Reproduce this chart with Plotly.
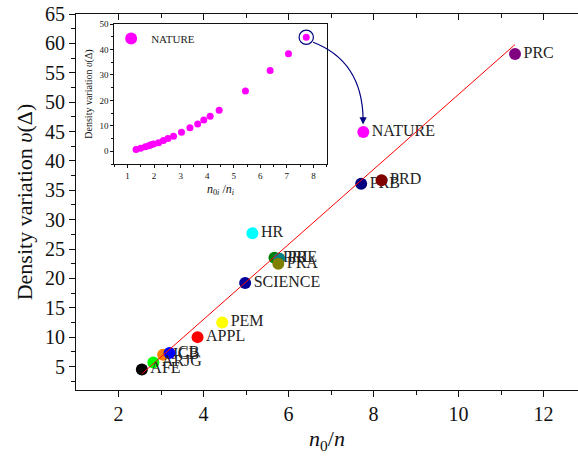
import plotly.graph_objects as go

# ---- main data ----
labels = ["PRC", "NATURE", "PRB", "PRD", "HR", "PRL", "PRE", "PRA", "SCIENCE",
          "PEM", "APPL", "JCB", "CB", "ARJG", "AFE"]
x_main = [11.33, 7.76, 7.71, 8.19, 5.15, 5.67, 5.78, 5.76, 4.98,
          4.44, 3.86, 3.05, 3.20, 2.82, 2.55]
y_main = [58.2, 44.9, 36.1, 36.7, 27.7, 23.5, 23.4, 22.5, 19.2,
          12.5, 10.0, 7.0, 7.3, 5.7, 4.5]
colors = ["#800080", "#ff00ff", "#000080", "#800000", "#00ffff", "#008000",
          "#008080", "#808000", "#000099", "#ffff00", "#ff0000", "#ff8000",
          "#0000ff", "#00ff00", "#000000"]

fit_x = [2.55, 11.33]
fit_y = [3.75, 59.8]

# ---- inset data (NATURE) ----
x_in = [1.32, 1.49, 1.67, 1.80, 1.88, 1.98, 2.17, 2.35, 2.52, 2.73, 3.03, 3.35,
        3.64, 3.87, 4.11, 4.45, 5.44, 6.37, 7.06, 7.73]
y_in = [0.7, 1.2, 1.8, 2.2, 2.6, 2.9, 3.4, 4.2, 5.0, 5.9, 7.5, 9.2,
        10.7, 12.3, 13.8, 16.1, 23.7, 31.7, 38.3, 44.8]

serif = "Liberation Serif"

fig = go.Figure()

for i in range(len(labels)):
    fig.add_trace(go.Scatter(
        x=[x_main[i]], y=[y_main[i]], mode="markers+text",
        marker=dict(size=12, color=colors[i]),
        text=[labels[i]], textposition="middle right",
        textfont=dict(family=serif, size=16, color="#222"),
        showlegend=False, xaxis="x", yaxis="y", cliponaxis=False))

fig.add_trace(go.Scatter(x=fit_x, y=fit_y, mode="lines",
                         line=dict(color="#ff0000", width=1),
                         showlegend=False, xaxis="x", yaxis="y"))

# inset trace
fig.add_trace(go.Scatter(x=x_in, y=y_in, mode="markers",
                         marker=dict(size=7, color="#ff00ff"),
                         name="NATURE", showlegend=False,
                         xaxis="x3", yaxis="y3"))
# legend entry for inset (bigger symbol)
fig.add_trace(go.Scatter(x=[None], y=[None], mode="markers",
                         marker=dict(size=12, color="#ff00ff"),
                         name="NATURE", showlegend=True,
                         xaxis="x3", yaxis="y3"))

# top axis dummy
fig.add_trace(go.Scatter(x=[None], y=[None], xaxis="x2", yaxis="y",
                         showlegend=False))

xr = [1, 1 + (578 - 76) / 42.5]

axis_font = dict(family=serif, size=20, color="#111")
fig.update_layout(
    width=578, height=456,
    margin=dict(l=76, r=0, t=14, b=66),
    paper_bgcolor="white", plot_bgcolor="white",
    font=dict(family=serif),
    xaxis=dict(domain=[0, 1], range=xr, tickvals=[2, 4, 6, 8, 10, 12],
               ticks="outside", ticklen=6, tickwidth=1, tickcolor="#111",
               minor=dict(tickvals=[3, 5, 7, 9, 11], ticks="outside", ticklen=4,
                          tickcolor="#111"),
               showline=True, linecolor="#111", linewidth=1.2,
               showgrid=False, zeroline=False, tickfont=axis_font,
               title=dict(text="<i>n</i><sub>0</sub>/<i>n</i>",
                          font=dict(family=serif, size=22, color="#111"),
                          standoff=6)),
    xaxis2=dict(overlaying="x", side="top", anchor="y", range=xr,
                tickvals=[2, 4, 6, 8, 10, 12], ticks="inside", ticklen=6,
                tickcolor="#111",
                minor=dict(tickvals=[3, 5, 7, 9, 11], ticks="inside", ticklen=4,
                           tickcolor="#111"),
                showticklabels=False, showline=True, linecolor="#111",
                linewidth=1.2, showgrid=False, zeroline=False),
    yaxis=dict(domain=[0, 1], range=[1, 65],
               tickvals=list(range(5, 66, 5)),
               ticks="outside", ticklen=6, tickcolor="#111",
               minor=dict(dtick=2.5, tick0=0, ticks="outside", ticklen=4,
                          tickcolor="#111"),
               showline=True, linecolor="#111", linewidth=1.2,
               showgrid=False, zeroline=False, tickfont=axis_font,
               title=dict(text="Density variation <i>υ</i>(Δ)",
                          font=dict(family=serif, size=22, color="#111"),
                          standoff=6)),
    xaxis3=dict(domain=[0.0763, 0.4994], anchor="y3", range=[0.5, 8.5],
                dtick=1, ticks="outside", ticklen=3, tickcolor="#111",
                minor=dict(dtick=0.5, ticks="outside", ticklen=2, tickcolor="#111"),
                showline=True, mirror=True, linecolor="#111", linewidth=1,
                showgrid=False, zeroline=False,
                tickfont=dict(family=serif, size=9, color="#111"),
                title=dict(text="<i>n</i><sub>0<i>i</i></sub> /<i>n</i><sub><i>i</i></sub>",
                           font=dict(family=serif, size=12, color="#111"),
                           standoff=4)),
    yaxis3=dict(domain=[0.601, 0.9734], anchor="x3", range=[-5, 50],
                dtick=10, ticks="outside", ticklen=3, tickcolor="#111",
                minor=dict(dtick=5, ticks="outside", ticklen=2, tickcolor="#111"),
                showline=True, mirror=True, linecolor="#111", linewidth=1,
                showgrid=False, zeroline=False,
                tickfont=dict(family=serif, size=9, color="#111"),
                title=dict(text="Density variation <i>υ</i>(Δ)",
                           font=dict(family=serif, size=10, color="#111"),
                           standoff=4)),
    legend=dict(x=0.07, y=0.935, xanchor="left", yanchor="middle",
                bgcolor="rgba(0,0,0,0)", font=dict(family=serif, size=11, color="#222"),
                itemsizing="trace", itemwidth=30),
    showlegend=True,
)

# circle around the last inset point
fig.add_shape(type="circle", xref="x3", yref="y3",
              x0=x_in[-1] - 0.27, x1=x_in[-1] + 0.27,
              y0=y_in[-1] - 2.8, y1=y_in[-1] + 2.8,
              line=dict(color="#000080", width=1.2))

# curved connector from inset to NATURE point
fig.add_shape(type="path", xref="x", yref="y",
              path="M 6.58,60.2 Q 7.73,57.0 7.755,47.2",
              line=dict(color="#000080", width=1.2))
fig.add_annotation(x=7.755, y=46.2, ax=7.755, ay=47.5, xref="x", yref="y",
                   axref="x", ayref="y", showarrow=True, arrowhead=2,
                   arrowsize=1.2, arrowwidth=1.2, arrowcolor="#000080", text="")

fig.write_html("out.html")
